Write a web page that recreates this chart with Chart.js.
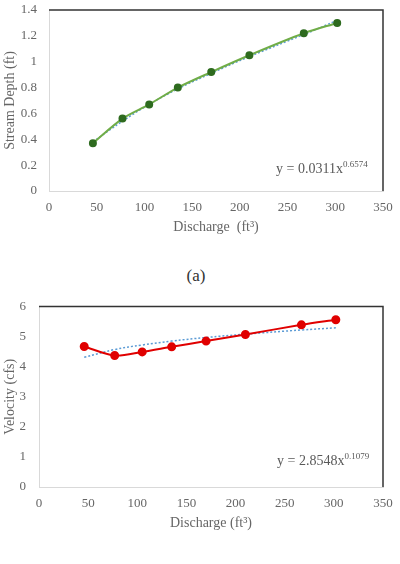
<!DOCTYPE html>
<html>
<head>
<meta charset="utf-8">
<script src="https://cdn.jsdelivr.net/npm/chart.js@4.4.1/dist/chart.umd.min.js"></script>
<style>
    body { margin: 0; background: #fff; width: 400px; height: 564px; position: relative; overflow: hidden; font-family: "Liberation Serif", serif; }
    canvas { position: absolute; left: 0; }
    .eq { position: absolute; font-size: 14px; color: #595959; white-space: nowrap; }
    .eq sup { font-size: 9px; vertical-align: 6px; line-height: 0; }
    .cap { position: absolute; font-size: 17px; color: #333; width: 400px; text-align: center; left: -4px; }
</style>
</head>
<body>
<canvas id="depthChart" width="400" height="240" style="top:0"></canvas>
<div class="eq" style="left:276px;top:161px">y = 0.0311x<sup>0.6574</sup></div>
<div class="cap" style="top:266px">(a)</div>
<canvas id="velocityChart" width="400" height="240" style="top:296px"></canvas>
<div class="eq" style="left:277px;top:453px">y = 2.8548x<sup>0.1079</sup></div>

<script>
// values
const discharge = [46, 77, 105, 135, 170, 210, 267, 302];
const depth = [0.37, 0.56, 0.67, 0.80, 0.92, 1.05, 1.22, 1.30];
const depthTrend = [0.38, 0.54, 0.67, 0.79, 0.91, 1.04, 1.21, 1.32];
const velocity = [4.67, 4.37, 4.49, 4.66, 4.85, 5.07, 5.39, 5.56];
const velocityTrend = [4.31, 4.57, 4.72, 4.85, 4.97, 5.08, 5.22, 5.29];

const xTicks = [0, 50, 100, 150, 200, 250, 300, 350];
const depthTicks = [0, 0.2, 0.4, 0.6, 0.8, 1, 1.2, 1.4];
const velocityTicks = [0, 1, 2, 3, 4, 5, 6];

const textColor = '#666';
const tickFont = { family: 'Liberation Serif', size: 13 };
const titleFont = { family: 'Liberation Serif', size: 14 };

// dark top and right frame, like the original plot
const frameEdges = {
    id: 'frameEdges',
    afterDraw(chart) {
        const a = chart.chartArea;
        const ctx = chart.ctx;
        ctx.save();
        ctx.strokeStyle = '#333';
        ctx.lineWidth = 1.5;
        ctx.beginPath();
        ctx.moveTo(a.left, a.top);
        ctx.lineTo(a.right, a.top);
        ctx.lineTo(a.right, a.bottom);
        ctx.stroke();
        ctx.restore();
    }
};

function points(ys) {
    return discharge.map((x, i) => ({ x: x, y: ys[i] }));
}

function makeChart(id, values, trend, yTicks, yTitle, xTitle, opts) {
    const ctx = document.getElementById(id).getContext('2d');
    return new Chart(ctx, {
        type: 'line',
        data: {
            datasets: [{
                data: points(values),
                borderColor: opts.lineColor,
                backgroundColor: opts.markerColor,
                pointBackgroundColor: opts.markerColor,
                pointBorderColor: opts.markerColor,
                pointRadius: opts.radius,
                borderWidth: 2,
                tension: 0.3,
                order: 1
            }, {
                data: points(trend),
                borderColor: '#5B9BD5',
                borderWidth: 1.5,
                borderDash: [2, 2],
                pointRadius: 0,
                tension: 0.4,
                order: 2
            }]
        },
        options: {
            responsive: false,
            animation: false,
            layout: { padding: { top: opts.top, right: 17, left: 0, bottom: 0 } },
            plugins: { legend: { display: false }, tooltip: { enabled: false } },
            scales: {
                x: {
                    type: 'linear',
                    min: 0,
                    max: 350,
                    afterBuildTicks: s => { s.ticks = xTicks.map(v => ({ value: v })); },
                    afterFit: s => { s.height = 49; s.paddingLeft = 0; s.paddingRight = 0; },
                    grid: { display: false, drawTicks: false },
                    border: { color: '#d9d9d9', width: 1 },
                    ticks: { color: textColor, font: tickFont, padding: 9, maxRotation: 0, callback: v => String(v) },
                    title: { display: true, text: xTitle, color: textColor, font: titleFont, padding: { top: 0, bottom: 4 } }
                },
                y: {
                    min: 0,
                    max: yTicks[yTicks.length - 1],
                    afterBuildTicks: s => { s.ticks = yTicks.map(v => ({ value: v })); },
                    afterFit: s => { s.width = opts.left; s.paddingTop = 0; s.paddingBottom = 0; },
                    grid: { display: false, drawTicks: false },
                    border: { color: '#d9d9d9', width: 1 },
                    ticks: { color: textColor, font: tickFont, padding: opts.tickPad, callback: v => String(v) },
                    title: { display: true, text: yTitle, color: textColor, font: titleFont, padding: { top: 2, bottom: 0 } }
                }
            }
        },
        plugins: [frameEdges]
    });
}

makeChart('depthChart', depth, depthTrend, depthTicks, 'Stream Depth (ft)', 'Discharge  (ft\u00B3)', {
    lineColor: '#70AD47', markerColor: '#2E6B1F', radius: 3, left: 49, tickPad: 12, top: 10
});
makeChart('velocityChart', velocity, velocityTrend, velocityTicks, 'Velocity (cfs)', 'Discharge (ft\u00B3)', {
    lineColor: '#E00000', markerColor: '#E00000', radius: 3.5, left: 39, tickPad: 13, top: 10.5
});
</script>
</body>
</html>
